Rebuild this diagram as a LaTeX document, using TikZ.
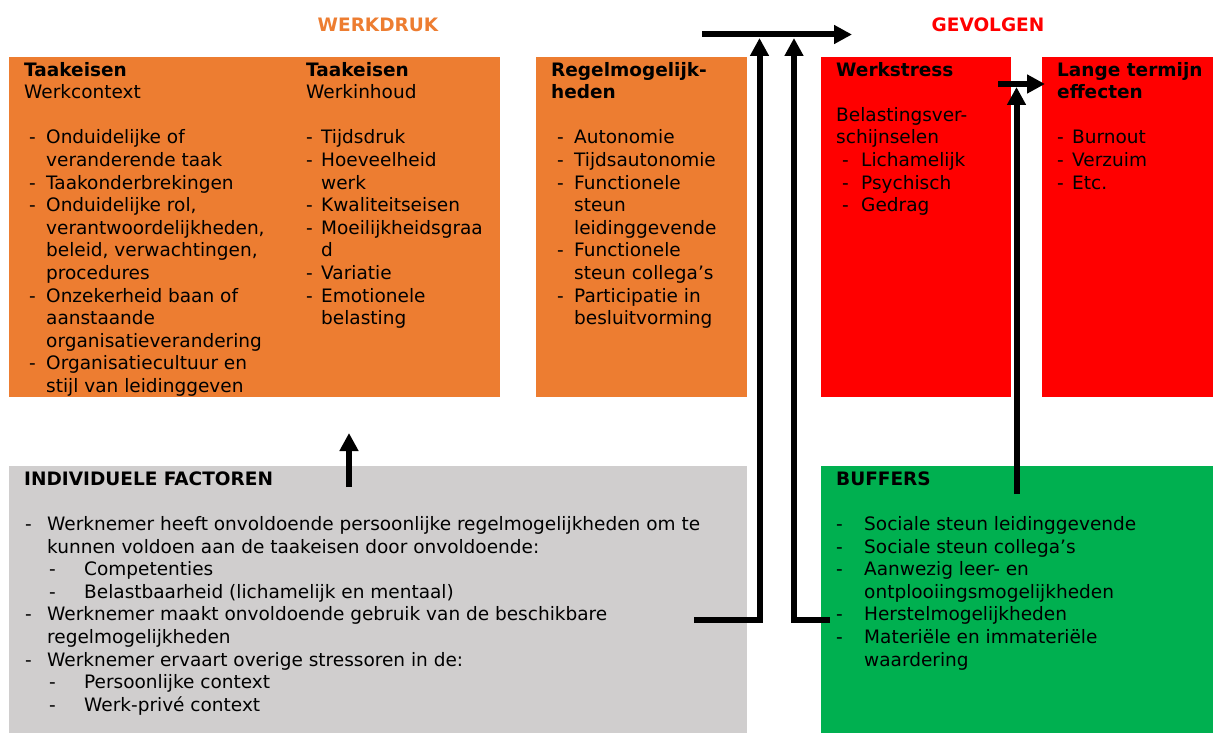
\documentclass[tikz,border=0pt]{standalone}
\usepackage{fontspec}
\setmainfont{DejaVu Sans}
\usetikzlibrary{arrows.meta,positioning}
\usepackage{xcolor}
\definecolor{wdoranje}{RGB}{237,125,49}
\definecolor{wdrood}{RGB}{255,0,0}
\definecolor{wdgroen}{RGB}{0,176,80}
\definecolor{wdgrijs}{RGB}{208,206,206}

% blok met tekst bovenaan: breedte, hoogte, inhoud
\newcommand{\vak}[3]{\parbox[t][#2pt][t]{#1pt}{\raggedright\rule{0pt}{19pt}#3}}
% kolom binnen een blok
\newcommand{\kolom}[2]{\parbox[t]{#1pt}{\raggedright #2}}
% opsomming met streepje: plaats streep, plaats tekst, tekst
\newcommand{\streep}[3]{\par\noindent\hangindent=#2pt\hangafter=1
  \hbox to #2pt{\hspace*{#1pt}-\hfil}#3}
\newcommand{\leeg}{\vspace{\baselineskip}}

\tikzset{
    blok/.style={
        fill=#1,anchor=north west,inner xsep=15pt,inner ysep=0pt,
        text=black,font=\fontsize{18.5}{22.6}\selectfont
    },
    kop/.style={
        text=#1,font=\fontsize{18.5}{22.6}\selectfont\bfseries
    },
    pijl/.style={
        -{Triangle[length=18pt,width=18pt]},line width=6pt,draw=black
    }
}

\begin{document}
\begin{tikzpicture}[x=1pt,y=-1pt]
\useasboundingbox (0,0) rectangle (1213,733);

\node[kop=wdoranje] (werkdruk) at (378,24.5) {WERKDRUK};
\node[kop=wdrood] (gevolgen) at (988,24.5) {GEVOLGEN};

% werkdruk
\node[blok=wdoranje] (eisen) at (9,57)
{\vak{461}{340}{%
\kolom{282}{%
\textbf{Taakeisen}\\
Werkcontext\par\leeg
\streep{5}{22}{Onduidelijke of\newline veranderende taak}
\streep{5}{22}{Taakonderbrekingen}
\streep{5}{22}{Onduidelijke rol,\newline verantwoordelijkheden,\newline beleid, verwachtingen,\newline procedures}
\streep{5}{22}{Onzekerheid baan of\newline aanstaande\newline organisatieverandering}
\streep{5}{22}{Organisatiecultuur en\newline stijl van leidinggeven}}%
\kolom{179}{%
\textbf{Taakeisen}\\
Werkinhoud\par\leeg
\streep{0}{15}{Tijdsdruk}
\streep{0}{15}{Hoeveelheid\newline werk}
\streep{0}{15}{Kwaliteitseisen}
\streep{0}{15}{Moeilijkheidsgraa\newline d}
\streep{0}{15}{Variatie}
\streep{0}{15}{Emotionele\newline belasting}}}};

\node[blok=wdoranje] (regel) at (536,57)
{\vak{181}{340}{%
\textbf{Regelmogelijk-}\\
\textbf{heden}\par\leeg
\streep{6}{23}{Autonomie}
\streep{6}{23}{Tijdsautonomie}
\streep{6}{23}{Functionele\newline steun\newline leidinggevende}
\streep{6}{23}{Functionele\newline steun collega’s}
\streep{6}{23}{Participatie in\newline besluitvorming}}};

% gevolgen
\node[blok=wdrood] (stress) at (821,57)
{\vak{160}{340}{%
\textbf{Werkstress}\par\leeg
Belastingsver-\\
schijnselen
\streep{6}{25}{Lichamelijk}
\streep{6}{25}{Psychisch}
\streep{6}{25}{Gedrag}}};

\node[blok=wdrood] (lang) at (1042,57)
{\vak{141}{340}{%
\mbox{\textbf{Lange termijn}}\\
\textbf{effecten}\par\leeg
\streep{0}{15}{Burnout}
\streep{0}{15}{Verzuim}
\streep{0}{15}{Etc.}}};

% individu en buffers
\node[blok=wdgrijs] (individu) at (9,466)
{\vak{708}{267}{%
\textbf{INDIVIDUELE FACTOREN}\par\leeg
\streep{1}{23}{Werknemer heeft onvoldoende persoonlijke regelmogelijkheden om te\newline kunnen voldoen aan de taakeisen door onvoldoende:}
\streep{25}{60}{Competenties}
\streep{25}{60}{Belastbaarheid (lichamelijk en mentaal)}
\streep{1}{23}{Werknemer maakt onvoldoende gebruik van de beschikbare\newline regelmogelijkheden}
\streep{1}{23}{Werknemer ervaart overige stressoren in de:}
\streep{25}{60}{Persoonlijke context}
\streep{25}{60}{Werk-privé context}}};

\node[blok=wdgroen] (buffers) at (821,466)
{\vak{362}{267}{%
\textbf{BUFFERS}\par\leeg
\streep{0}{28}{Sociale steun leidinggevende}
\streep{0}{28}{Sociale steun collega’s}
\streep{0}{28}{Aanwezig leer- en\newline ontplooiingsmogelijkheden}
\streep{0}{28}{Herstelmogelijkheden}
\streep{0}{28}{Materiële en immateriële\newline waardering}}};

% pijlen
\coordinate (pijlbegin) at (702,34.5);
\coordinate (pijleind) at (852,34.5);
\coordinate (individuuit) at (694,620);
\coordinate (buffersuit) at (830,620);
\coordinate (punt1) at (759.5,38);
\coordinate (punt2) at (794,38);
\coordinate (individuop) at (349,487);
\coordinate (eisenonder) at (349,433);
\coordinate (buffersop) at (1016.5,494);
\coordinate (punt3) at (1016.5,87);
\coordinate (stressuit) at (998,84);
\coordinate (langin) at (1045,84);

\draw[pijl] (pijlbegin) -- (pijleind);
\draw[pijl] (individuuit) -| (punt1);
\draw[pijl] (buffersuit) -| (punt2);
\draw[pijl] (individuop) -- (eisenonder);
\draw[pijl] (buffersop) -- (punt3);
\draw[pijl] (stressuit) -- (langin);

\end{tikzpicture}
\end{document}
